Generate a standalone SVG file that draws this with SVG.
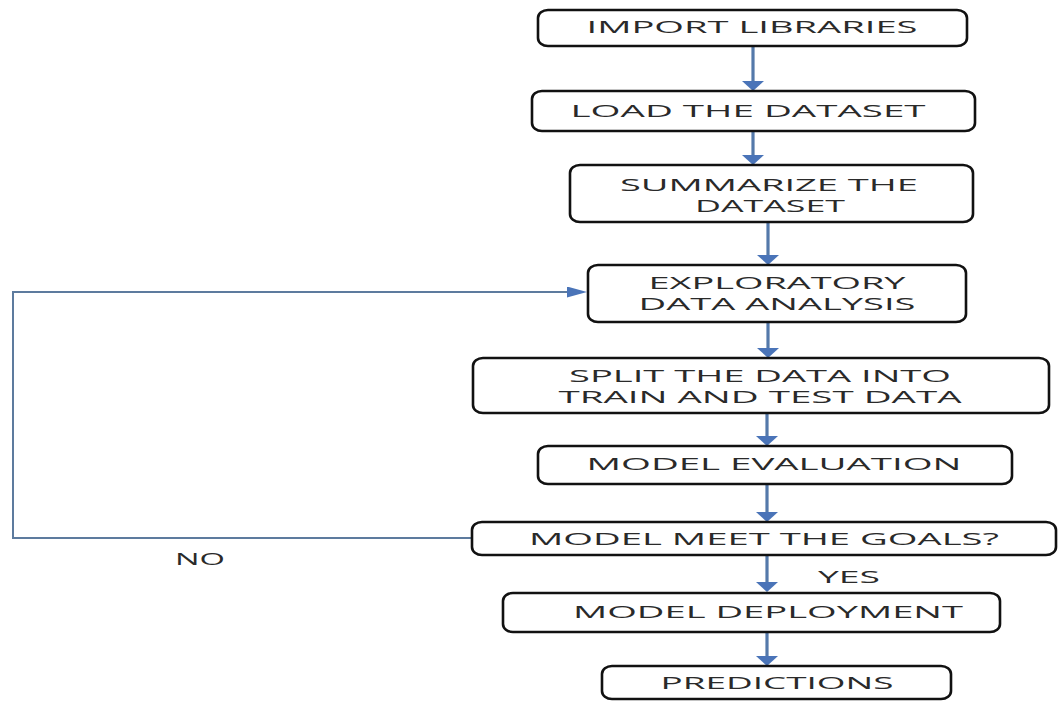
<svg xmlns="http://www.w3.org/2000/svg" width="1062" height="708" viewBox="0 0 1062 708">
  <style>
    .box { fill: #ffffff; stroke: #111111; stroke-width: 2.6; }
    .lbl { font-family: "Open Sans", "Liberation Sans", sans-serif; font-size: 17px; fill: #2a2a2a; text-anchor: middle; }
    .two { font-size: 16px; }
    .flow { stroke: #5479aa; stroke-width: 3.2; fill: none; }
    .loop { stroke: #5d7b9e; stroke-width: 2; fill: none; }
  </style>
  <defs>
    <marker id="ah" viewBox="0 0 10 22" markerWidth="10" markerHeight="22" refX="2" refY="11" orient="auto" markerUnits="userSpaceOnUse">
      <path d="M0,0 L10,11 L0,22 Z" fill="#4a74b8"/>
    </marker>
    <marker id="ahL" viewBox="0 0 20 11" markerWidth="20" markerHeight="11" refX="4" refY="5.5" orient="auto" markerUnits="userSpaceOnUse">
      <path d="M0,0 L20,5.5 L0,11 Z" fill="#4a74b8"/>
    </marker>
  </defs>
  <rect width="1062" height="708" fill="#ffffff"/>

  <g id="connectors">
    <line class="flow" x1="753" y1="46" x2="753" y2="83" marker-end="url(#ah)"/>
    <line class="flow" x1="753" y1="131" x2="753" y2="157" marker-end="url(#ah)"/>
    <line class="flow" x1="768" y1="222" x2="768" y2="257" marker-end="url(#ah)"/>
    <line class="flow" x1="768" y1="322" x2="768" y2="350" marker-end="url(#ah)"/>
    <line class="flow" x1="767" y1="413" x2="767" y2="438" marker-end="url(#ah)"/>
    <line class="flow" x1="767" y1="484" x2="767" y2="514" marker-end="url(#ah)"/>
    <line class="flow" x1="767" y1="555" x2="767" y2="584" marker-end="url(#ah)"/>
    <line class="flow" x1="767" y1="632" x2="767" y2="658" marker-end="url(#ah)"/>
    <polyline class="loop" points="472,538 13,538 13,292 571,292" marker-end="url(#ahL)"/>
    <text class="lbl" x="200" y="565" textLength="50" lengthAdjust="spacingAndGlyphs">NO</text>
    <text class="lbl" x="849" y="583" textLength="62" lengthAdjust="spacingAndGlyphs">YES</text>
  </g>

  <g id="n1">
    <rect class="box" x="538" y="10" width="429" height="36" rx="10" ry="8"/>
    <text class="lbl" x="752" y="33" textLength="331" lengthAdjust="spacingAndGlyphs">IMPORT LIBRARIES</text>
  </g>
  <g id="n2">
    <rect class="box" x="532" y="91" width="443" height="40" rx="10" ry="8"/>
    <text class="lbl" x="748" y="117" textLength="355" lengthAdjust="spacingAndGlyphs">LOAD THE DATASET</text>
  </g>
  <g id="n3">
    <rect class="box" x="570" y="165" width="403" height="57" rx="10" ry="8"/>
    <text class="lbl two" x="769" y="191" textLength="298" lengthAdjust="spacingAndGlyphs">SUMMARIZE THE</text>
    <text class="lbl two" x="770" y="212" textLength="150" lengthAdjust="spacingAndGlyphs">DATASET</text>
  </g>
  <g id="n4">
    <rect class="box" x="588" y="265" width="378" height="57" rx="10" ry="8"/>
    <text class="lbl two" x="777" y="289" textLength="257" lengthAdjust="spacingAndGlyphs">EXPLORATORY</text>
    <text class="lbl two" x="777" y="310" textLength="277" lengthAdjust="spacingAndGlyphs">DATA ANALYSIS</text>
  </g>
  <g id="n5">
    <rect class="box" x="473" y="358" width="576" height="55" rx="10" ry="8"/>
    <text class="lbl two" x="760" y="382" textLength="382" lengthAdjust="spacingAndGlyphs">SPLIT THE DATA INTO</text>
    <text class="lbl two" x="760" y="403" textLength="403" lengthAdjust="spacingAndGlyphs">TRAIN AND TEST DATA</text>
  </g>
  <g id="n6">
    <rect class="box" x="538" y="446" width="474" height="38" rx="10" ry="8"/>
    <text class="lbl" x="774" y="470" textLength="375" lengthAdjust="spacingAndGlyphs">MODEL EVALUATION</text>
  </g>
  <g id="n7">
    <rect class="box" x="472" y="522" width="584" height="33" rx="10" ry="8"/>
    <text class="lbl" x="764" y="545" textLength="470" lengthAdjust="spacingAndGlyphs">MODEL MEET THE GOALS?</text>
  </g>
  <g id="n8">
    <rect class="box" x="503" y="593" width="497" height="39" rx="10" ry="8"/>
    <text class="lbl" x="768" y="618" textLength="390" lengthAdjust="spacingAndGlyphs">MODEL DEPLOYMENT</text>
  </g>
  <g id="n9">
    <rect class="box" x="602" y="666" width="349" height="33" rx="10" ry="8"/>
    <text class="lbl" x="777" y="689" textLength="233" lengthAdjust="spacingAndGlyphs">PREDICTIONS</text>
  </g>
</svg>
